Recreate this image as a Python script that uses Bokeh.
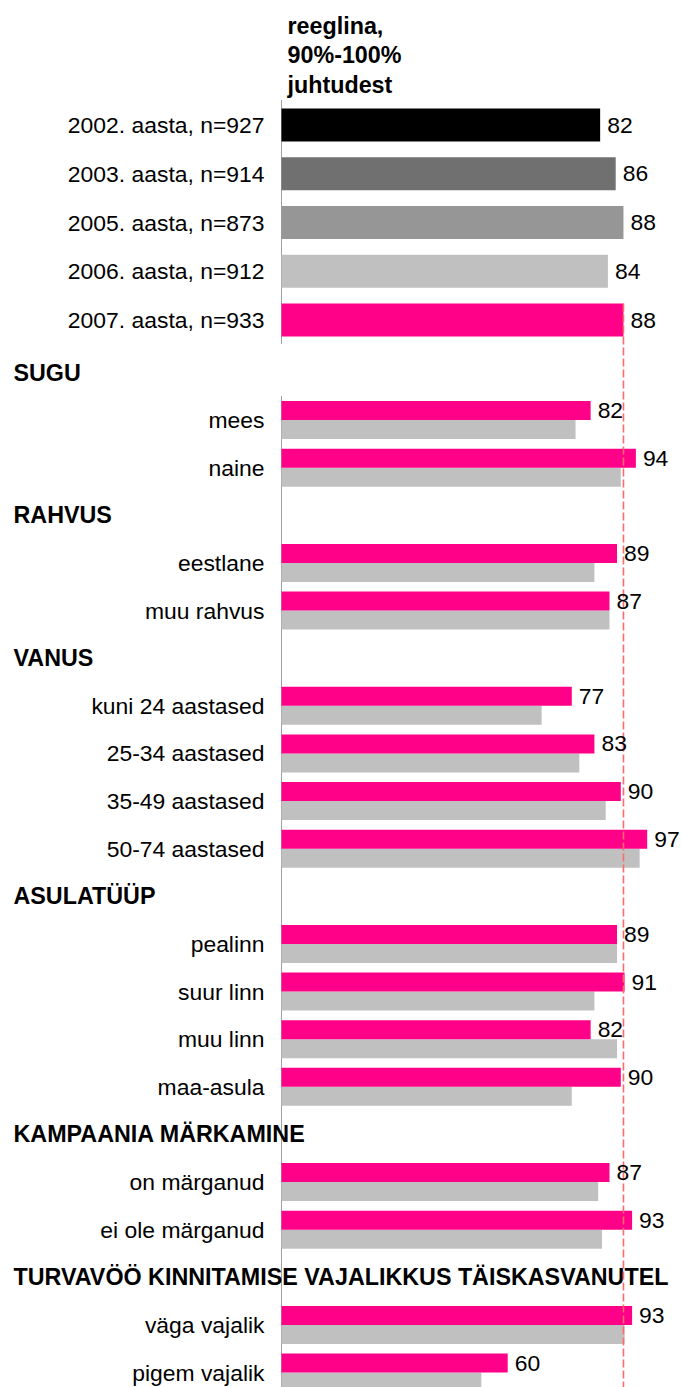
from bokeh.plotting import figure
from bokeh.models import Range1d, ColumnDataSource
from bokeh.core.properties import value
from bokeh.embed import file_html
from bokeh.resources import INLINE

# ---------------- data ----------------
header_lines = ["reeglina,", "90%-100%", "juhtudest"]

years = ["2002. aasta, n=927", "2003. aasta, n=914", "2005. aasta, n=873",
         "2006. aasta, n=912", "2007. aasta, n=933"]
year_values = [82, 86, 88, 84, 88]
year_colors = ["#000000", "#707070", "#969696", "#C0C0C0", "#FF0088"]

groups = ["SUGU", "RAHVUS", "VANUS", "ASULATÜÜP", "KAMPAANIA MÄRKAMINE",
          "TURVAVÖÖ KINNITAMISE VAJALIKKUS TÄISKASVANUTEL"]
group_categories = [
    ["mees", "naine"],
    ["eestlane", "muu rahvus"],
    ["kuni 24 aastased", "25-34 aastased", "35-49 aastased", "50-74 aastased"],
    ["pealinn", "suur linn", "muu linn", "maa-asula"],
    ["on märganud", "ei ole märganud"],
    ["väga vajalik", "pigem vajalik"],
]
values_2007 = [[82, 94], [89, 87], [77, 83, 90, 97], [89, 91, 82, 90], [87, 93], [93, 60]]
values_2006 = [[78, 90], [83, 87], [69, 79, 86, 95], [89, 83, 89, 77], [84, 85], [91, 53]]

# ---------------- layout constants ----------------
W, H = 682, 1387
AXIS_PX = 281            # frame x of value 0
TOP_SCALE = 3.886        # px per unit, upper block
BOT_SCALE = 3.77         # px per unit, lower block
TOP_Y0, TOP_STEP, TOP_BAR_H = 124.5, 48.75, 33
BOT_Y0, BOT_STEP, BOT_BAR_H = 372.0, 47.62, 19
FONT = value("Liberation Sans")
FS = "22.9px"
FSB = "23.3px"
PINK = "#FF0088"
GRAY = "#C0C0C0"

p = figure(width=W, height=H,
           x_range=Range1d(-AXIS_PX / TOP_SCALE, (W - AXIS_PX) / TOP_SCALE),
           y_range=Range1d(H, 0),
           output_backend="svg", toolbar_location=None,
           x_axis_location=None, y_axis_location=None, min_border=0)
p.extra_x_ranges = {"b": Range1d(-AXIS_PX / BOT_SCALE, (W - AXIS_PX) / BOT_SCALE)}
p.grid.visible = False
p.outline_line_color = None
p.background_fill_color = "white"
p.border_fill_color = "white"

# ---------------- upper block ----------------
top_y = [TOP_Y0 + i * TOP_STEP for i in range(len(years))]
src_top = ColumnDataSource(dict(y=top_y, v=year_values, c=year_colors, lab=years,
                                t=[str(v) for v in year_values]))

# header text
hdr_y = [25.0 + i * 29.5 for i in range(len(header_lines))]
p.text(x=[0] * len(header_lines), y=hdr_y, text=header_lines, x_offset=6,
       text_font=FONT, text_font_size=FSB, text_font_style="bold",
       text_align="left", text_baseline="middle", text_color="black")

# axis line (upper)
p.segment(x0=[0], y0=[top_y[0] - TOP_STEP / 2 - 0.5], x1=[0], y1=[top_y[-1] + TOP_STEP / 2 - 0.5],
          line_color="#A0A0A0", line_width=1)

p.hbar(y="y", left=0, right="v", height=TOP_BAR_H, fill_color="c", line_color=None, source=src_top)
p.text(x="v", y="y", text="t", source=src_top, x_offset=7,
       text_font=FONT, text_font_size=FS, text_align="left", text_baseline="middle",
       text_color="black")
p.text(x=0, y="y", text="lab", source=src_top, x_offset=-17,
       text_font=FONT, text_font_size=FS, text_align="right", text_baseline="middle",
       text_color="black")

# ---------------- lower block ----------------
hdr_rows, hdr_txt = [], []
cat_rows, cat_txt, v07, v06 = [], [], [], []
k = 0
for g, cats, a, b in zip(groups, group_categories, values_2007, values_2006):
    hdr_rows.append(BOT_Y0 + k * BOT_STEP)
    hdr_txt.append(g)
    k += 1
    for c, va, vb in zip(cats, a, b):
        cat_rows.append(BOT_Y0 + k * BOT_STEP)
        cat_txt.append(c)
        v07.append(va)
        v06.append(vb)
        k += 1

src_bot = ColumnDataSource(dict(
    yc=cat_rows,
    yp=[y - BOT_BAR_H / 2 for y in cat_rows],
    yg=[y + BOT_BAR_H / 2 for y in cat_rows],
    v07=v07, v06=v06, lab=cat_txt, t=[str(v) for v in v07]))

# axis line (lower)
p.segment(x0=[0], y0=[cat_rows[0] - BOT_BAR_H - 5], x1=[0], y1=[H],
          line_color="#A0A0A0", line_width=1, x_range_name="b")

p.hbar(y="yg", left=0, right="v06", height=BOT_BAR_H, fill_color=GRAY, line_color=None,
       source=src_bot, x_range_name="b")
p.hbar(y="yp", left=0, right="v07", height=BOT_BAR_H, fill_color=PINK, line_color=None,
       source=src_bot, x_range_name="b")

# group headers
p.text(x=[-AXIS_PX / TOP_SCALE] * len(hdr_rows), y=hdr_rows, text=hdr_txt, x_offset=13,
       text_font=FONT, text_font_size=FSB, text_font_style="bold",
       text_align="left", text_baseline="middle", text_color="black")

# reference dashed line at the 2007 level (drawn over the bars)
p.segment(x0=[year_values[-1]], y0=[top_y[-1] - TOP_BAR_H / 2], x1=[year_values[-1]], y1=[H],
          line_color="#FF6A6A", line_width=1.6, line_dash="8 3")

p.text(x="v07", y="yp", text="t", source=src_bot, x_offset=7, x_range_name="b",
       text_font=FONT, text_font_size=FS, text_align="left", text_baseline="middle",
       text_color="black")
p.text(x=0, y="yc", text="lab", source=src_bot, x_offset=-17, x_range_name="b",
       text_font=FONT, text_font_size=FS, text_align="right", text_baseline="middle",
       text_color="black")

open("out.html", "w").write(file_html(p, INLINE))
